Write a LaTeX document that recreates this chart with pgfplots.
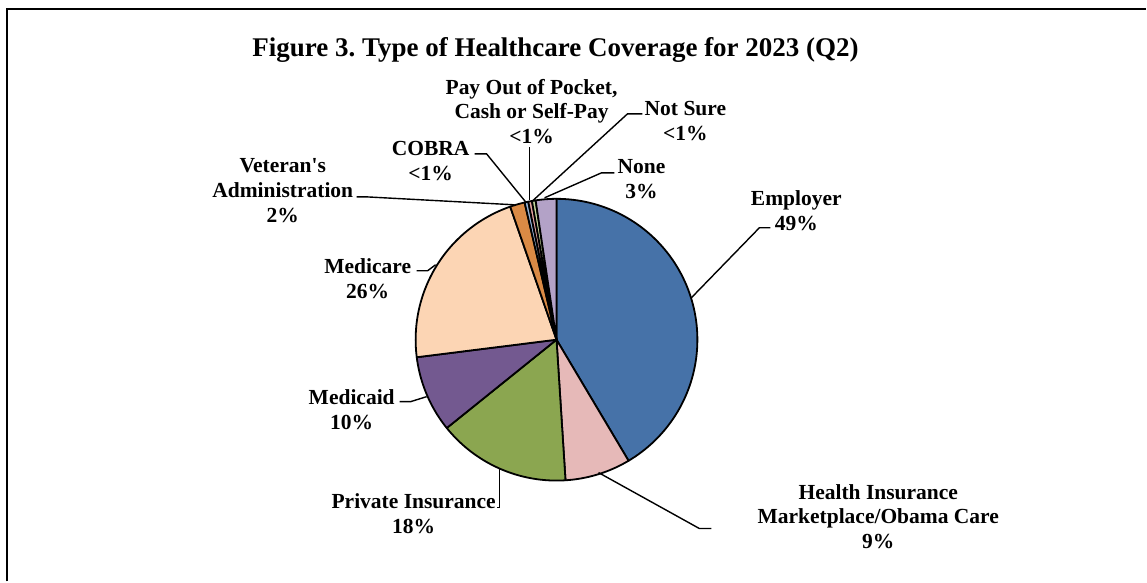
\documentclass[border=0pt]{standalone}
\usepackage{pgfplots}
\pgfplotsset{compat=1.18}
\usepackage{pgfplotstable}
\usepackage{fontspec}
\setmainfont{Liberation Serif}

\definecolor{pie0}{HTML}{4672A8}% Employer
\definecolor{pie1}{HTML}{E6B9B8}% Marketplace
\definecolor{pie2}{HTML}{8BA650}% Private
\definecolor{pie3}{HTML}{735990}% Medicaid
\definecolor{pie4}{HTML}{FCD5B4}% Medicare
\definecolor{pie5}{HTML}{DA8A45}% VA
\definecolor{pie6}{HTML}{95B3D7}% COBRA
\definecolor{pie7}{HTML}{E6A3A0}% Pay out of pocket
\definecolor{pie8}{HTML}{C3D69B}% Not sure
\definecolor{pie9}{HTML}{B3A2C7}% None

% slice sizes (percent of respondents; multiple responses allowed)
\pgfplotstableread{
idx value
0 49
1 8.9
2 18
3 10.4
4 25.6
5 2.0
6 0.5
7 0.5
8 0.5
9 2.8
}\piedata

\gdef\pietotal{0}
\foreach \i in {0,...,9}{%
  \pgfplotstablegetelem{\i}{value}\of\piedata
  \pgfmathsetmacro\tmpsum{\pietotal+\pgfplotsretval}%
  \xdef\pietotal{\tmpsum}%
}
\gdef\piecum{0}
\foreach \i in {0,...,9}{%
  \pgfplotstablegetelem{\i}{value}\of\piedata
  \pgfmathsetmacro\tmpstart{90-(\piecum/\pietotal)*360}%
  \pgfmathsetmacro\tmpcum{\piecum+\pgfplotsretval}%
  \xdef\piecum{\tmpcum}%
  \pgfmathsetmacro\tmpend{90-(\piecum/\pietotal)*360}%
  \expandafter\xdef\csname ps\i\endcsname{\tmpstart}%
  \expandafter\xdef\csname pe\i\endcsname{\tmpend}%
}

\begin{document}
\frenchspacing
\begin{tikzpicture}
\begin{axis}[
  at={(0,0)}, anchor=south west,
  width=1147pt, height=582pt, scale only axis,
  hide axis, clip=false,
  xmin=0, xmax=1147, ymin=-582, ymax=0,
]
% invisible corners so the picture spans the whole canvas
\addplot[draw=none, no marks] coordinates {(0,0) (1147,-582)};
% frame (left and top edges)
\addplot[black, line width=2pt, no marks] coordinates {(7,-582) (7,-9) (1147,-9)};

% pie slices
\pgfplotsinvokeforeach{0,...,9}{
  \addplot[fill=pie#1, draw=black, line width=1.8pt, line join=round,
    domain=\csname pe#1\endcsname:\csname ps#1\endcsname, samples=90]
    ({557+141*cos(x)},{-340+141*sin(x)}) -- (axis cs:557,-340) -- cycle;
}

% leader lines
\addplot[black, line width=1.4pt, no marks] coordinates {(692,-298) (760,-228) (771,-228)};
\addplot[black, line width=1.4pt, no marks] coordinates {(599,-473) (700,-529) (712,-529)};
\addplot[black, line width=1.4pt, no marks] coordinates {(500,-469) (500,-508) (497,-508)};
\addplot[black, line width=1.4pt, no marks] coordinates {(427,-397) (411,-402) (400,-402)};
\addplot[black, line width=1.4pt, no marks] coordinates {(436,-265) (428,-271) (417,-271)};
\addplot[black, line width=1.4pt, no marks] coordinates {(515,-205) (366,-197) (357,-197)};
\addplot[black, line width=1.4pt, no marks] coordinates {(526,-202) (487,-154) (475,-154)};
\addplot[black, line width=1.4pt, no marks] coordinates {(530,-200) (530,-147)};
\addplot[black, line width=1.4pt, no marks] coordinates {(532,-202) (628,-114) (643,-114)};
\addplot[black, line width=1.4pt, no marks] coordinates {(545,-198) (602,-173) (615,-173)};

% title
\node[font=\fontsize{27}{32}\selectfont\bfseries] at (axis cs:556,-50)
  {Figure 3. Type of Healthcare Coverage for 2023 (Q2)};

% labels
\tikzset{lbl/.style={font=\fontsize{21.5}{24.8}\selectfont\bfseries, align=center, inner sep=0pt}}
\node[lbl] at (axis cs:797,-210.5) {Employer\\49\%};
\node[lbl] at (axis cs:879,-517) {Health Insurance\\Marketplace/Obama Care\\9\%};
\node[lbl] at (axis cs:414,-514) {Private Insurance\\18\%};
\node[lbl] at (axis cs:352,-410) {Medicaid\\10\%};
\node[lbl] at (axis cs:368,-279) {Medicare\\26\%};
\node[lbl] at (axis cs:283,-191) {Veteran\textquotesingle s\\Administration\\2\%};
\node[lbl] at (axis cs:431,-161) {COBRA\\<1\%};
\node[lbl] at (axis cs:532,-111.5) {Pay Out of Pocket,\\Cash or Self-Pay\\<1\%};
\node[lbl] at (axis cs:686,-121.5) {Not Sure\\<1\%};
\node[lbl] at (axis cs:642,-179.5) {None\\3\%};
\end{axis}
\end{tikzpicture}
\end{document}
